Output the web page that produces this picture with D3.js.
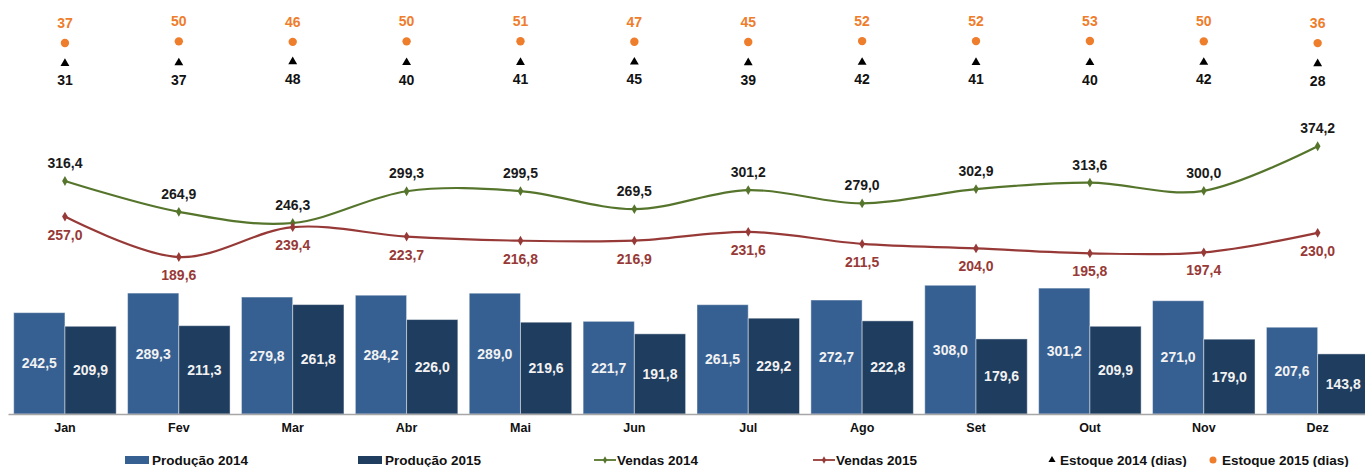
<!DOCTYPE html>
<html>
<head>
<meta charset="utf-8">
<script src="https://cdn.jsdelivr.net/npm/d3@7"></script>
<style>
  body { margin: 0; background: #fff; }
  svg { font-family: "Liberation Sans", Arial, sans-serif; font-weight: bold; }
</style>
</head>
<body>
<div id="chart"></div>
<script>
// months and series
var months = ["Jan", "Fev", "Mar", "Abr", "Mai", "Jun", "Jul", "Ago", "Set", "Out", "Nov", "Dez"];
var producao2014 = [242.5, 289.3, 279.8, 284.2, 289.0, 221.7, 261.5, 272.7, 308.0, 301.2, 271.0, 207.6];
var producao2015 = [209.9, 211.3, 261.8, 226.0, 219.6, 191.8, 229.2, 222.8, 179.6, 209.9, 179.0, 143.8];
var vendas2014 = [316.4, 264.9, 246.3, 299.3, 299.5, 269.5, 301.2, 279.0, 302.9, 313.6, 300.0, 374.2];
var vendas2015 = [257.0, 189.6, 239.4, 223.7, 216.8, 216.9, 231.6, 211.5, 204.0, 195.8, 197.4, 230.0];
var estoque2014 = [31, 37, 48, 40, 41, 45, 39, 42, 41, 40, 42, 28];
var estoque2015 = [37, 50, 46, 50, 51, 47, 45, 52, 52, 53, 50, 36];

var width = 1365, height = 467;

var ptBR = d3.formatLocale({ decimal: ",", thousands: ".", grouping: [3], currency: ["R$", ""] });
var fmt1 = ptBR.format(".1f");

var svg = d3.select("#chart").append("svg")
    .attr("width", width)
    .attr("height", height);

var x = d3.scaleBand()
    .domain(months)
    .range([8, 1374.6])
    .paddingInner(0.1)
    .paddingOuter(0.05);

var xSub = d3.scaleBand()
    .domain(["p14", "p15"])
    .range([0, x.bandwidth()]);

// bars on their own axis
var yBar = d3.scaleLinear().domain([0, 400]).range([414, 414 - 0.418 * 400]);
// sales lines
var yLine = d3.scaleLinear().domain([0, 400]).range([370.8, 370.8 - 0.6 * 400]);
// stock markers (two secondary axes)
var yEst15 = d3.scaleLinear().domain([0, 60]).range([47.6, 40.1]);
var yEst14 = d3.scaleLinear().domain([0, 60]).range([66.5, 60.5]);

var c14 = "#376092", c15 = "#1f3d5f";
var cV14 = "#56752c", cV15 = "#973a37";
var cOrange = "#ee7d2c";

var barData = months.map(function (m, i) {
    return { month: m, p14: producao2014[i], p15: producao2015[i] };
});

// Bars
var groups = svg.append("g").selectAll("g")
    .data(barData)
    .join("g")
    .attr("transform", function (d) { return "translate(" + x(d.month) + ",0)"; });

["p14", "p15"].forEach(function (k) {
    groups.append("rect")
        .attr("x", xSub(k))
        .attr("y", function (d) { return yBar(d[k]); })
        .attr("width", xSub.bandwidth())
        .attr("height", function (d) { return yBar(0) - yBar(d[k]); })
        .attr("fill", k == "p14" ? c14 : c15)
        .attr("stroke", "#ffffff")
        .attr("stroke-opacity", 0.45)
        .attr("stroke-width", 1);

    groups.append("text")
        .attr("x", xSub(k) + xSub.bandwidth() / 2)
        .attr("y", function (d) { return (yBar(d[k]) + yBar(0)) / 2 + 5; })
        .attr("text-anchor", "middle")
        .style("font-size", "14px")
        .attr("fill", "#f2f2f2")
        .text(function (d) { return fmt1(d[k]); });
});

// X axis
var xAxis = svg.append("g")
    .attr("transform", "translate(0," + 414 + ")")
    .call(d3.axisBottom(x).tickSize(0).tickPadding(9));
xAxis.select(".domain").attr("stroke", "#a6a6a6").attr("stroke-width", 1.5);
xAxis.selectAll("text")
    .style("font-size", "12.5px")
    .style("font-weight", "bold")
    .style("font-family", "Liberation Sans, Arial, sans-serif")
    .attr("fill", "#111");

// Sales lines
var line = d3.line()
    .x(function (d, i) { return x(months[i]) + x.bandwidth() / 2; })
    .y(function (d) { return yLine(d); })
    .curve(d3.curveCardinal.tension(0));

var diamond = d3.symbol().type(d3.symbolDiamond).size(28);

function drawLine(values, color, labelColor, dy) {
    svg.append("path")
        .datum(values)
        .attr("d", line)
        .attr("fill", "none")
        .attr("stroke", color)
        .attr("stroke-width", 2.2);

    svg.append("g").selectAll("path")
        .data(values)
        .join("path")
        .attr("d", diamond)
        .attr("fill", color)
        .attr("transform", function (d, i) {
            return "translate(" + (x(months[i]) + x.bandwidth() / 2) + "," + yLine(d) + ")";
        });

    svg.append("g").selectAll("text")
        .data(values)
        .join("text")
        .attr("x", function (d, i) { return x(months[i]) + x.bandwidth() / 2; })
        .attr("y", function (d) { return yLine(d) + dy; })
        .attr("text-anchor", "middle")
        .style("font-size", "14px")
        .attr("fill", labelColor)
        .text(function (d) { return fmt1(d); });
}

drawLine(vendas2014, cV14, "#1a1a1a", -13);
drawLine(vendas2015, cV15, cV15, 23);

// Stock markers
var cx = function (i) { return x(months[i]) + x.bandwidth() / 2; };

svg.append("g").selectAll("circle")
    .data(estoque2015)
    .join("circle")
    .attr("cx", function (d, i) { return cx(i); })
    .attr("cy", function (d) { return yEst15(d); })
    .attr("r", 4.2)
    .attr("fill", cOrange);

svg.append("g").selectAll("text")
    .data(estoque2015)
    .join("text")
    .attr("x", function (d, i) { return cx(i); })
    .attr("y", function (d) { return yEst15(d) - 15; })
    .attr("text-anchor", "middle")
    .style("font-size", "14px")
    .attr("fill", cOrange)
    .text(function (d) { return d; });

var tri = d3.symbol().type(d3.symbolTriangle).size(34);
svg.append("g").selectAll("path")
    .data(estoque2014)
    .join("path")
    .attr("d", tri)
    .attr("fill", "#000")
    .attr("transform", function (d, i) { return "translate(" + cx(i) + "," + yEst14(d) + ")"; });

svg.append("g").selectAll("text")
    .data(estoque2014)
    .join("text")
    .attr("x", function (d, i) { return cx(i); })
    .attr("y", function (d) { return yEst14(d) + 22; })
    .attr("text-anchor", "middle")
    .style("font-size", "14px")
    .attr("fill", "#111")
    .text(function (d) { return d; });

// Legend
var legendItems = [
    { label: "Produção 2014", type: "rect", color: c14, x: 125 },
    { label: "Produção 2015", type: "rect", color: c15, x: 358 },
    { label: "Vendas 2014", type: "line", color: cV14, x: 594 },
    { label: "Vendas 2015", type: "line", color: cV15, x: 813 },
    { label: "Estoque 2014 (dias)", type: "tri", color: "#000", x: 1048 },
    { label: "Estoque 2015 (dias)", type: "dot", color: cOrange, x: 1209 }
];

var legend = svg.append("g").attr("transform", "translate(0,460)");
legendItems.forEach(function (it) {
    var g = legend.append("g").attr("transform", "translate(" + it.x + ",0)");
    var tx;
    if (it.type == "rect") {
        g.append("rect").attr("x", 0).attr("y", -4).attr("width", 24).attr("height", 8).attr("fill", it.color);
        tx = 27;
    } else if (it.type == "line") {
        g.append("line").attr("x1", 0).attr("x2", 22).attr("y1", 0).attr("y2", 0)
            .attr("stroke", it.color).attr("stroke-width", 1.8);
        g.append("path").attr("d", d3.symbol().type(d3.symbolDiamond).size(16)).attr("fill", it.color)
            .attr("transform", "translate(11,0)");
        tx = 23;
    } else if (it.type == "tri") {
        g.append("path").attr("d", d3.symbol().type(d3.symbolTriangle).size(22)).attr("fill", it.color)
            .attr("transform", "translate(4,0)");
        tx = 12;
    } else {
        g.append("circle").attr("cx", 4).attr("cy", 0).attr("r", 3.5).attr("fill", it.color);
        tx = 13;
    }
    g.append("text")
        .attr("x", tx)
        .attr("y", 5)
        .style("font-size", "13.5px")
        .attr("fill", "#111")
        .text(it.label);
});
</script>
</body>
</html>
